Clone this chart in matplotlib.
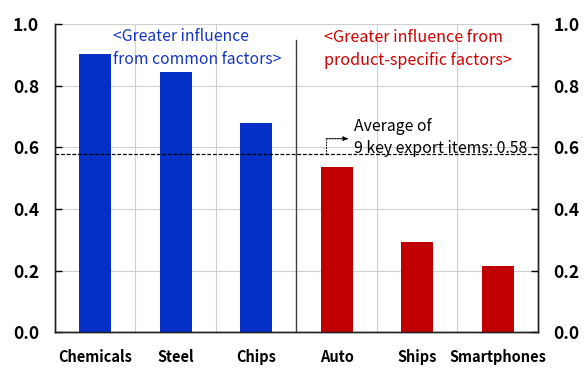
import numpy as np
import matplotlib.pyplot as plt

plt.rcParams['font.family'] = ['Noto Sans CJK KR', 'DejaVu Sans']

items = ["Chemicals", "Steel", "Chips", "Auto", "Ships", "Smartphones"]
values = [0.903, 0.844, 0.679, 0.537, 0.294, 0.217]
colors = ["#0530C8", "#0530C8", "#0530C8", "#C00000", "#C00000", "#C00000"]
average = 0.58
yticks = [0.0, 0.2, 0.4, 0.6, 0.8, 1.0]

fig = plt.figure(figsize=(5.84, 3.68), dpi=100)
ax = fig.add_axes([0.094, 0.0965, 0.827, 0.8385])

x = np.arange(len(items))
ax.bar(x, values, width=0.4, color=colors, zorder=3)

ax.set_xlim(-0.5, len(items) - 0.5)
ax.set_ylim(0, 1.0)

# light grid: horizontal at the ticks, vertical between the categories
for y in yticks[1:]:
    ax.axhline(y, color="#d0d0d0", lw=0.8, zorder=1)
for b in [0.5, 1.5, 3.5, 4.5]:
    ax.axvline(b, color="#d0d0d0", lw=0.8, zorder=1)
# divider between the two groups
ax.plot([2.5, 2.5], [0, 0.948], color="#404040", lw=1.0, zorder=2)

# average line
ax.axhline(average, color="black", lw=0.9, ls=(0, (3, 1.5)), zorder=4)
ax.annotate("", xy=(3.15, 0.628), xytext=(2.87, 0.628),
            arrowprops=dict(arrowstyle="-|>,head_length=0.3,head_width=0.12",
                            color="black", lw=0.8, ls=(0, (1.5, 1)),
                            shrinkA=0, shrinkB=0), zorder=5)
ax.plot([2.87, 2.87], [average, 0.628], color="black", lw=0.8,
        ls=(0, (1.5, 1)), zorder=5)
ax.text(3.21, 0.667, "Average of", fontsize=11.4, fontweight="medium",
        color="black", va="center", ha="left", zorder=6)
ax.text(3.21, 0.596, "9 key export items: %.2f" % average, fontsize=11.4,
        fontweight="medium", color="black", va="center", ha="left", zorder=6)

ax.text(0.22, 0.923, "<Greater influence\nfrom common factors>", fontsize=11.3,
        fontweight="medium", color="#1535C0", va="center", ha="left",
        linespacing=1.45, zorder=6)
ax.text(2.84, 0.92, "<Greater influence from\nproduct-specific factors>",
        fontsize=11.6, fontweight="medium", color="#D00000", va="center",
        ha="left", linespacing=1.45, zorder=6)

ax.set_xticks(x)
ax.set_xticklabels(items, fontsize=10.5, fontweight="bold")
ax.tick_params(axis="x", length=0, pad=12)

ax.set_yticks(yticks)
ax.set_yticklabels(["%.1f" % v for v in yticks], fontsize=12.5, fontweight="bold")
ax.tick_params(axis="y", direction="in", length=5, width=1, pad=11.5,
               left=True, right=True, labelright=False)

ax2 = ax.twinx()
ax2.set_ylim(0, 1.0)
ax2.set_yticks(yticks)
ax2.set_yticklabels(["%.1f" % v for v in yticks], fontsize=12.5, fontweight="bold")
ax2.tick_params(axis="y", direction="in", length=5, width=1, pad=11)

for a in (ax, ax2):
    a.spines["top"].set_visible(False)
    for s in ("left", "right", "bottom"):
        a.spines[s].set_color("#202020")
        a.spines[s].set_linewidth(1.0)

fig.savefig("out.png", dpi=100)
